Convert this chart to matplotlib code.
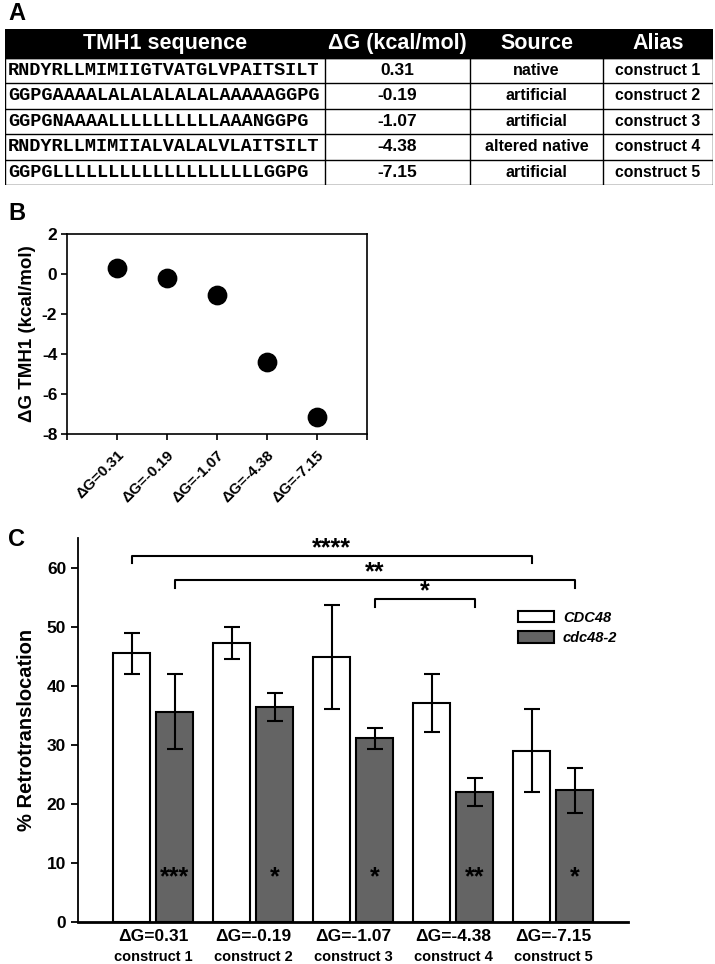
import matplotlib
matplotlib.use("Agg")
import matplotlib.pyplot as plt
from matplotlib.patches import Rectangle, Patch

plt.rcParams['font.family'] = ['Liberation Sans', 'DejaVu Sans']
plt.rcParams['font.weight'] = 'bold'
plt.rcParams['axes.labelweight'] = 'bold'
plt.rcParams['axes.unicode_minus'] = False

# ---------------- data ----------------
sequences = ["RNDYRLLMIMIIGTVATGLVPAITSILT",
             "GGPGAAAALALALALALALAAAAAGGPG",
             "GGPGNAAAALLLLLLLLLLAAANGGPG",
             "RNDYRLLMIMIIALVALALVLAITSILT",
             "GGPGLLLLLLLLLLLLLLLLLLLGGPG"]
dG = [0.31, -0.19, -1.07, -4.38, -7.15]
sources = ["native", "artificial", "artificial", "altered native", "artificial"]
aliases = ["construct 1", "construct 2", "construct 3", "construct 4", "construct 5"]
headers = ["TMH1 sequence", "\u0394G (kcal/mol)", "Source", "Alias"]

wt_mean = [45.5, 47.3, 44.8, 37.0, 29.0]
wt_err = [3.5, 2.7, 8.8, 4.9, 7.0]
mut_mean = [35.6, 36.4, 31.1, 22.0, 22.3]
mut_err = [6.3, 2.4, 1.8, 2.4, 3.8]
mut_stars = ["***", "*", "*", "**", "*"]

# brackets: (group a, bar a, group b, bar b, label, y)
brackets = [(0, "wt", 4, "wt", "****", 62.0),
            (0, "mut", 4, "mut", "**", 57.9),
            (2, "mut", 3, "mut", "*", 54.7)]

W, H = 715, 964
fig = plt.figure(figsize=(W / 100, H / 100), dpi=100)


def box(x0, y0, x1, y1):
    return [x0 / W, 1 - y1 / H, (x1 - x0) / W, (y1 - y0) / H]


# ---------------- panel A : table ----------------
axA = fig.add_axes(box(5, 29, 713, 185))
axA.set_xlim(5, 713)
axA.set_ylim(185, 29)
axA.axis("off")
col_edges = [5, 325, 470, 603, 713]
row_edges = [29, 57.5, 83, 108.5, 134, 159.5, 185]

axA.add_patch(Rectangle((5, 29), 708, 28.5, facecolor="black", edgecolor="black"))
for j, h in enumerate(headers):
    xc = (col_edges[j] + col_edges[j + 1]) / 2
    axA.text(xc, 43.5, h, color="white", fontsize=15.5, ha="center", va="center")

for y in row_edges[1:]:
    axA.plot([5, 713], [y, y], color="black", lw=1.0)
for x in col_edges:
    axA.plot([x, x], [57.5, 185], color="black", lw=1.0)

for i in range(len(sequences)):
    yc = (row_edges[i + 1] + row_edges[i + 2]) / 2
    axA.text(8, yc, sequences[i], family="Liberation Mono",
             fontsize=13.4, ha="left", va="center")
    axA.text((col_edges[1] + col_edges[2]) / 2, yc, f"{dG[i]:.2f}",
             fontsize=12.5, ha="center", va="center")
    axA.text((col_edges[2] + col_edges[3]) / 2, yc, sources[i],
             fontsize=11.5, ha="center", va="center")
    axA.text((col_edges[3] + col_edges[4]) / 2, yc, aliases[i],
             fontsize=11.3, ha="center", va="center")

fig.text(8 / W, 1 - 13 / H, "A", fontsize=17, va="center")

# ---------------- panel B : scatter ----------------
axB = fig.add_axes(box(67, 234, 367, 434))
xs = list(range(1, len(dG) + 1))
axB.scatter(xs, dG, s=175, color="black", zorder=3)
axB.set_xlim(0, 6)
axB.set_ylim(-8, 2)
axB.set_yticks(range(-8, 3, 2))
axB.set_yticklabels([str(v) for v in range(-8, 3, 2)], fontsize=12.5,
                    fontweight="bold")
axB.set_xticks(range(0, 7))
axB.set_xticklabels([""] + [f"\u0394G={v:.2f}" for v in dG] + [""],
                    rotation=45, ha="right", va="top", rotation_mode="anchor",
                    fontsize=11, fontweight="bold")
axB.tick_params(direction="out", length=4, width=1.2, pad=3)
axB.tick_params(axis="x", pad=6)
for sp in axB.spines.values():
    sp.set_linewidth(1.2)
axB.set_ylabel("\u0394G TMH1 (kcal/mol)", fontsize=13.5, fontweight="bold",
               labelpad=4)

fig.text(8 / W, 1 - 213 / H, "B", fontsize=17, va="center")

# ---------------- panel C : bars ----------------
axC = fig.add_axes(box(78, 538, 628, 922))
groups = list(range(1, len(wt_mean) + 1))
off, bw = 0.215, 0.37
x_wt = [g - off for g in groups]
x_mut = [g + off for g in groups]
ekw = dict(elinewidth=1.5, capthick=1.5, ecolor="black")
axC.bar(x_wt, wt_mean, bw, yerr=wt_err, capsize=5.5, color="white",
        edgecolor="black", linewidth=1.5, error_kw=ekw, label="CDC48")
axC.bar(x_mut, mut_mean, bw, yerr=mut_err, capsize=5.5, color="#646464",
        edgecolor="black", linewidth=1.5, error_kw=ekw, label="cdc48-2")

for x, s in zip(x_mut, mut_stars):
    axC.text(x, 7.5, s, ha="center", va="center", fontsize=18)

pos = {"wt": x_wt, "mut": x_mut}
for ga, ba, gb, bb, lab, y in brackets:
    xa, xb = pos[ba][ga], pos[bb][gb]
    axC.plot([xa, xa, xb, xb], [y - 1.3, y, y, y - 1.3], color="black", lw=1.5)
    axC.text((xa + xb) / 2, y - 0.75, lab, ha="center", va="bottom", fontsize=18)

axC.set_xlim(0.25, 5.75)
axC.set_ylim(0, 65)
axC.set_yticks(range(0, 61, 10))
axC.set_yticklabels([str(v) for v in range(0, 61, 10)], fontsize=12.5,
                    fontweight="bold")
axC.set_xticks(groups)
axC.set_xticklabels([""] * len(groups))
for g, v, a in zip(groups, dG, aliases):
    axC.text(g, -2.4, f"\u0394G={v:.2f}", ha="center", va="center", fontsize=12.5)
    axC.text(g, -5.9, a, ha="center", va="center", fontsize=10.5)
axC.spines["top"].set_visible(False)
axC.spines["right"].set_visible(False)
axC.spines["left"].set_linewidth(1.3)
axC.spines["bottom"].set_linewidth(2)
axC.tick_params(axis="y", direction="out", length=5, width=1.3)
axC.tick_params(axis="x", length=0)
axC.set_ylabel("% Retrotranslocation", fontsize=14.5, fontweight="bold", labelpad=8)

handles = [Patch(facecolor="white", edgecolor="black", linewidth=1.5, label="CDC48"),
           Patch(facecolor="#646464", edgecolor="black", linewidth=1.5, label="cdc48-2")]
axC.legend(handles=handles, loc="upper left", bbox_to_anchor=(0.786, 0.83),
           frameon=False, borderpad=0, handlelength=2.5, handleheight=0.8,
           labelspacing=0.45, handletextpad=0.6,
           prop=dict(size=10.5, weight="bold", style="italic"))

fig.text(8 / W, 1 - 540 / H, "C", fontsize=17, va="center")

fig.savefig("out.png", dpi=100)
